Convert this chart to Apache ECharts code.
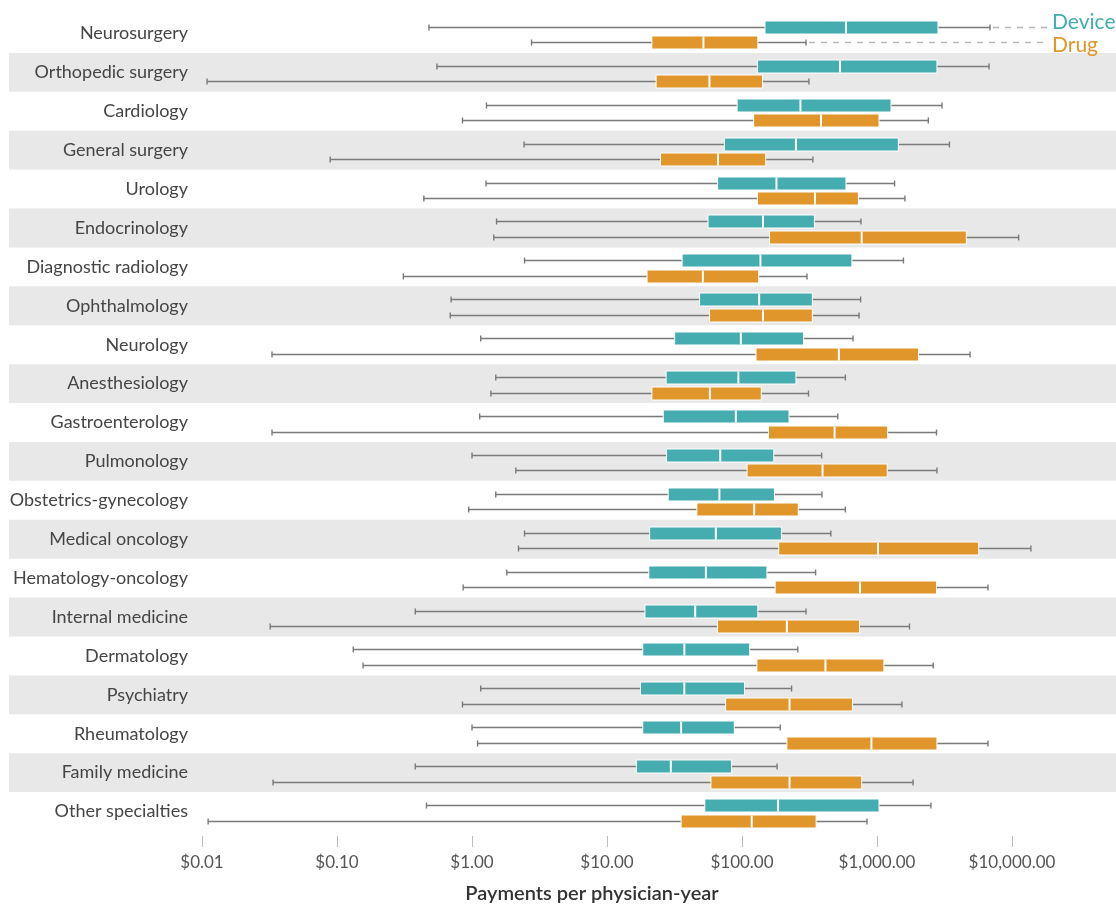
<!DOCTYPE html>
<html>
<head>
<meta charset="utf-8">
<title>Payments per physician-year by specialty</title>
<script src="https://cdn.jsdelivr.net/npm/echarts@6/dist/echarts.min.js"></script>
<style>
  html, body { margin: 0; padding: 0; background: #ffffff; }
  #chart { width: 1116px; height: 905px; }
</style>
</head>
<body>
<div id="chart"></div>
<script>
// Specialties, top to bottom
const categories = [
  'Neurosurgery', 'Orthopedic surgery', 'Cardiology', 'General surgery', 'Urology',
  'Endocrinology', 'Diagnostic radiology', 'Ophthalmology', 'Neurology', 'Anesthesiology',
  'Gastroenterology', 'Pulmonology', 'Obstetrics-gynecology', 'Medical oncology',
  'Hematology-oncology', 'Internal medicine', 'Dermatology', 'Psychiatry', 'Rheumatology',
  'Family medicine', 'Other specialties'
];

// [min, Q1, median, Q3, max] in dollars per physician-year
const deviceStats = [
  [0.48, 148, 589, 2830, 6870],
  [0.55, 130, 532, 2780, 6760],
  [1.28, 92, 271, 1270, 3030],
  [2.43, 74, 251, 1440, 3440],
  [1.27, 66, 180, 589, 1350],
  [1.52, 56, 143, 344, 761],
  [2.45, 36, 137, 652, 1570],
  [0.70, 48.5, 134, 332, 756],
  [1.16, 31.7, 98, 286, 664],
  [1.50, 27.4, 94, 251, 583],
  [1.14, 26.1, 90, 223, 512],
  [1.00, 27.6, 69, 172, 389],
  [1.50, 28.4, 68, 174, 391],
  [2.45, 20.7, 64, 196, 455],
  [1.81, 20.4, 54, 153, 351],
  [0.38, 19.1, 45, 131, 298],
  [0.132, 18.4, 37.4, 114, 259],
  [1.16, 17.7, 37.4, 104.5, 233],
  [1.00, 18.4, 35.4, 87.7, 192],
  [0.38, 16.5, 29.7, 83.7, 182],
  [0.46, 53, 185, 1035, 2510]
];

const drugStats = [
  [2.76, 21.5, 51.8, 131, 298],
  [0.0109, 23.1, 57.4, 142, 313],
  [0.85, 122, 385, 1035, 2400],
  [0.089, 24.9, 66.4, 150, 335],
  [0.44, 130, 347, 728, 1610],
  [1.45, 160, 770, 4590, 11200],
  [0.31, 19.8, 51.3, 133, 303],
  [0.69, 57.4, 143, 332, 736],
  [0.033, 127, 522, 2030, 4890],
  [1.38, 21.5, 57.8, 139, 311],
  [0.033, 157, 485, 1200, 2760],
  [2.11, 109, 395, 1190, 2780],
  [0.945, 46.3, 123, 261, 583],
  [2.21, 187, 1017, 5670, 13800],
  [0.86, 176, 748, 2760, 6640],
  [0.032, 65.9, 215, 742, 1740],
  [0.156, 129, 415, 1125, 2610],
  [0.85, 75.6, 225, 659, 1530],
  [1.10, 215, 909, 2780, 6640],
  [0.0336, 58.9, 225, 770, 1850],
  [0.0111, 35.4, 118, 354, 843]
];

const seriesNames = ['Device', 'Drug'];
const seriesColors = ['#45adb0', '#e0962a'];

const FONT = 'Lato, "Noto Sans", sans-serif';
const WHISKER = '#7a7a7a';

// Shaded bands behind every other specialty row
function bandRenderer(params, api) {
  const idx = api.value(0);
  const cy = api.coord([1, idx])[1];
  const pitch = Math.abs(api.coord([1, 1])[1] - api.coord([1, 0])[1]);
  return {
    type: 'rect',
    shape: { x: 9, y: cy - pitch / 2, width: api.getWidth() - 9, height: pitch },
    style: { fill: '#e7e8e7' },
    silent: true
  };
}

// One horizontal box with whiskers; the first row also carries the series label
function boxRenderer(color, dy, name, labelDy) {
  return function (params, api) {
    const idx = api.value(0);
    const xs = [1, 2, 3, 4, 5].map(function (d) { return api.coord([api.value(d), idx])[0]; });
    const y = Math.round(api.coord([1, idx])[1] + dy) + 0.5;
    const h = 13;
    const cap = 3;
    const children = [
      { type: 'line', shape: { x1: xs[0], y1: y, x2: xs[4], y2: y },
        style: { stroke: WHISKER, lineWidth: 1.4 } },
      { type: 'line', shape: { x1: xs[0], y1: y - cap, x2: xs[0], y2: y + cap },
        style: { stroke: WHISKER, lineWidth: 1.4 } },
      { type: 'line', shape: { x1: xs[4], y1: y - cap, x2: xs[4], y2: y + cap },
        style: { stroke: WHISKER, lineWidth: 1.4 } },
      { type: 'rect', shape: { x: xs[1], y: y - h / 2, width: xs[3] - xs[1], height: h },
        style: { fill: color, stroke: '#ffffff', lineWidth: 1 } },
      { type: 'line', shape: { x1: xs[2], y1: y - h / 2 + 0.5, x2: xs[2], y2: y + h / 2 - 0.5 },
        style: { stroke: '#ffffff', lineWidth: 2 } }
    ];
    if (params.dataIndex === 0) {
      children.push({
        type: 'line',
        shape: { x1: xs[4] + 3, y1: y, x2: 1049, y2: y },
        style: { stroke: '#b4b4b4', lineWidth: 1.4, lineDash: [6, 6] }
      });
      children.push({
        type: 'text',
        style: {
          x: 1052, y: y + labelDy, text: name, fill: color,
          font: '21px ' + FONT, textAlign: 'left', textVerticalAlign: 'middle'
        }
      });
    }
    return { type: 'group', children: children };
  };
}

function boxData(stats) {
  return stats.map(function (s, i) { return [i].concat(s); });
}

const bandRows = categories.map(function (c, i) { return i; }).filter(function (i) { return i % 2 === 1; });

const chart = echarts.init(document.getElementById('chart'), null, { renderer: 'canvas' });

chart.setOption({
  animation: false,
  backgroundColor: '#ffffff',
  grid: { left: 202, top: 14, width: 945, height: 817, containLabel: false, outerBoundsMode: 'none' },
  xAxis: {
    type: 'log',
    logBase: 10,
    min: 0.01,
    max: 100000,
    offset: 5,
    axisLine: { show: false },
    axisTick: { show: true, length: 11, lineStyle: { color: '#bdbdbd', width: 1 } },
    splitLine: { show: false },
    axisLabel: {
      margin: 18,
      color: '#555555',
      fontSize: 17,
      fontFamily: FONT,
      formatter: function (v) {
        if (v > 20000) return '';
        return '$' + Number(v).toLocaleString('en-US', { minimumFractionDigits: 2, maximumFractionDigits: 2 });
      }
    }
  },
  yAxis: {
    type: 'category',
    data: categories,
    inverse: true,
    axisLine: { show: false },
    axisTick: { show: false },
    splitLine: { show: false },
    axisLabel: {
      margin: 14, color: '#454545', fontSize: 18, fontFamily: FONT,
      verticalAlign: 'middle', lineHeight: 18, padding: [5, 0, 0, 0]
    }
  },
  graphic: [{
    type: 'text',
    x: 592, y: 894,
    style: {
      text: 'Payments per physician-year',
      font: '600 20px ' + FONT,
      fill: '#333333',
      textAlign: 'center',
      textVerticalAlign: 'middle'
    }
  }],
  series: [
    {
      type: 'custom',
      name: 'bands',
      z: -5,
      silent: true,
      renderItem: bandRenderer,
      encode: { y: 0 },
      data: bandRows.map(function (i) { return [i]; })
    },
    {
      type: 'custom',
      name: seriesNames[0],
      renderItem: boxRenderer(seriesColors[0], -6.5, seriesNames[0], -5),
      encode: { y: 0, x: [1, 2, 3, 4, 5] },
      data: boxData(deviceStats)
    },
    {
      type: 'custom',
      name: seriesNames[1],
      renderItem: boxRenderer(seriesColors[1], 9, seriesNames[1], 3),
      encode: { y: 0, x: [1, 2, 3, 4, 5] },
      data: boxData(drugStats)
    }
  ]
});
</script>
</body>
</html>
